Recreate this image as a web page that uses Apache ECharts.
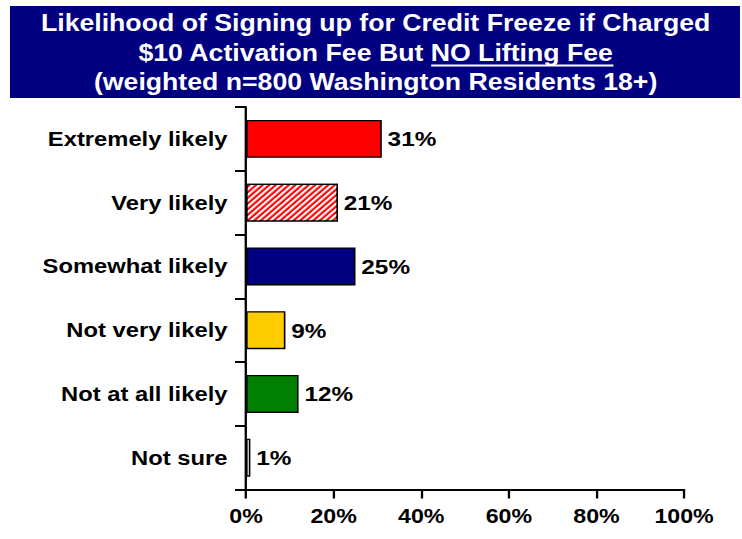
<!DOCTYPE html>
<html>
<head>
<meta charset="utf-8">
<script src="https://cdn.jsdelivr.net/npm/echarts@6/dist/echarts.min.js"></script>
<style>
  html, body { margin: 0; padding: 0; background: #ffffff; overflow: hidden; }
  /* chart is laid out on a 640px-wide canvas and widened to the page width */
  #chart { width: 640px; height: 539px; transform: scaleX(1.159375); transform-origin: 0 0; }
</style>
</head>
<body>
<div id="chart"></div>
<script>
// Survey answers, top to bottom
const categories = ['Extremely likely', 'Very likely', 'Somewhat likely', 'Not very likely', 'Not at all likely', 'Not sure'];
// Share of respondents (%)
const values = [31, 21, 25, 9, 12, 1];
const barColors = ['#FF0000', '#FF0000', '#000080', '#FFCC00', '#008000', '#FFFFFF'];
const hatched = [false, true, false, false, false, false];
// Percentage axis
const xTicks = [0, 20, 40, 60, 80, 100];

// Title text; the second line has an underlined tail
const titleLine1 = 'Likelihood of Signing up for Credit Freeze if Charged';
const titleLine2Lead = '$10 Activation Fee But ';
const titleLine2Underlined = 'NO Lifting Fee';
const titleLine3 = '(weighted n=800 Washington Residents 18+)';

const FONT = '"Liberation Sans", Arial, Helvetica, sans-serif';
const TITLE_SIZE = 23;

const chart = echarts.init(document.getElementById('chart'), null, { renderer: 'svg' });

// measure the title's second line so the underline sits under its tail
const ctx = document.createElement('canvas').getContext('2d');
ctx.font = 'bold ' + TITLE_SIZE + 'px ' + FONT;
const line2Full = titleLine2Lead + titleLine2Underlined;
const fullW = ctx.measureText(line2Full).width;
const leadW = ctx.measureText(titleLine2Lead).width;
const tailW = ctx.measureText(titleLine2Underlined).width;
const titleCx = 324;
const underlineX0 = titleCx - fullW / 2 + leadW;

const barData = values.map((v, i) => {
  const item = {
    value: v,
    itemStyle: { color: barColors[i] }
  };
  if (hatched[i]) {
    item.itemStyle.decal = {
      symbol: 'rect',
      symbolSize: 1,
      dashArrayX: [1, 0],
      dashArrayY: [1.7, 1.3],
      rotation: -Math.PI / 4,
      color: '#FFFFFF'
    };
  }
  return item;
});

const titleText = (text, y) => ({
  type: 'text',
  z: 10,
  style: {
    text: text,
    x: titleCx,
    y: y,
    align: 'center',
    verticalAlign: 'middle',
    fill: '#FFFFFF',
    font: 'bold ' + TITLE_SIZE + 'px ' + FONT
  }
});

chart.setOption({
  backgroundColor: '#FFFFFF',
  animation: false,
  graphic: [
    { type: 'rect', z: 5, shape: { x: 8.6, y: 6, width: 629.7, height: 92 }, style: { fill: '#000080' } },
    titleText(titleLine1, 23),
    titleText(line2Full, 52.5),
    titleText(titleLine3, 82),
    {
      type: 'line', z: 10,
      shape: { x1: underlineX0, y1: 65.5, x2: underlineX0 + tailW, y2: 65.5 },
      style: { stroke: '#FFFFFF', lineWidth: 2 }
    }
  ],
  grid: { left: 212.2, right: 50, top: 107, bottom: 49.5, containLabel: false },
  xAxis: {
    type: 'value',
    min: xTicks[0],
    max: xTicks[xTicks.length - 1],
    interval: xTicks[1] - xTicks[0],
    splitLine: { show: false },
    axisLine: { show: true, lineStyle: { color: '#000000', width: 2 } },
    axisTick: { show: true, length: 9, lineStyle: { color: '#000000', width: 2 } },
    axisLabel: {
      formatter: '{value}%',
      color: '#000000',
      fontFamily: FONT,
      fontWeight: 'bold',
      fontSize: 20,
      margin: 17
    }
  },
  yAxis: {
    type: 'category',
    data: categories,
    inverse: true,
    axisLine: { show: true, lineStyle: { color: '#000000', width: 2 } },
    axisTick: { show: true, length: 9.5, lineStyle: { color: '#000000', width: 2 } },
    axisLabel: {
      color: '#000000',
      fontFamily: FONT,
      fontWeight: 'bold',
      fontSize: 20.5,
      margin: 16
    }
  },
  series: [{
    type: 'bar',
    data: barData,
    barWidth: 38,
    itemStyle: { borderColor: '#000000', borderWidth: 1.4 },
    label: {
      show: true,
      position: 'right',
      distance: 5,
      formatter: '{c}%',
      color: '#000000',
      fontFamily: FONT,
      fontWeight: 'bold',
      fontSize: 21
    }
  }]
});
</script>
</body>
</html>
